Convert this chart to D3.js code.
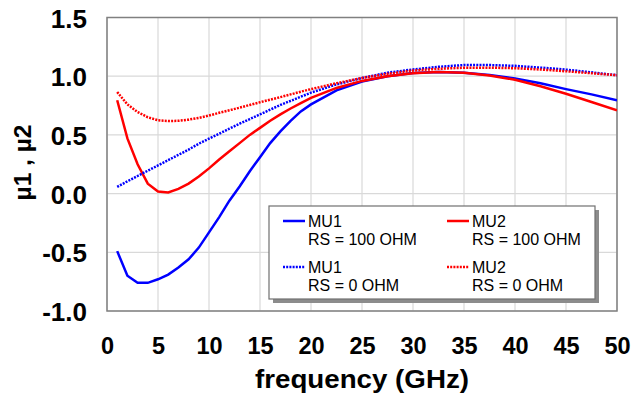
<!DOCTYPE html>
<html><head><meta charset="utf-8">
<script src="https://cdn.jsdelivr.net/npm/d3@7/dist/d3.min.js"></script>
<style>body{margin:0;background:#fff}svg{display:block}</style>
</head><body><svg id="c" width="636" height="399"></svg>
<script>
const freq = [1,2,3,4,5,6,7,8,9,10,11,12,13,14,15,16,17,18,19,20,22.5,25,27.5,30,32.5,35,37.5,40,42.5,45,47.5,50];
const mu1_rs100 = [-0.49,-0.70,-0.76,-0.76,-0.73,-0.69,-0.63,-0.56,-0.46,-0.33,-0.20,-0.06,0.06,0.19,0.31,0.43,0.53,0.62,0.70,0.76,0.88,0.955,1.00,1.027,1.036,1.03,1.01,0.98,0.94,0.89,0.845,0.795];
const mu2_rs100 = [0.795,0.47,0.25,0.085,0.017,0.01,0.04,0.085,0.145,0.215,0.29,0.36,0.43,0.50,0.56,0.62,0.675,0.725,0.77,0.815,0.90,0.96,1.00,1.025,1.035,1.03,1.005,0.97,0.915,0.85,0.78,0.71];
const mu1_rs0 = [0.057,0.105,0.15,0.195,0.24,0.285,0.33,0.375,0.425,0.468,0.51,0.553,0.595,0.635,0.675,0.715,0.755,0.79,0.825,0.86,0.93,0.985,1.03,1.057,1.08,1.095,1.095,1.088,1.073,1.056,1.033,1.008];
const mu2_rs0 = [0.865,0.76,0.695,0.65,0.625,0.618,0.62,0.63,0.645,0.665,0.688,0.71,0.732,0.755,0.778,0.80,0.822,0.845,0.868,0.89,0.94,0.985,1.02,1.048,1.063,1.072,1.073,1.068,1.057,1.042,1.025,1.008];
const xTicks = [0,5,10,15,20,25,30,35,40,45,50];
const yTicks = [-1.0,-0.5,0.0,0.5,1.0,1.5];
const seriesNames = ["MU1","MU2","MU1","MU2"];
const seriesSub = ["RS = 100 OHM","RS = 100 OHM","RS = 0 OHM","RS = 0 OHM"];

const svg = d3.select("#c");
const L=107,R=617,T=17.5,B=311;
const x = d3.scaleLinear().domain([0,50]).range([L,R]);
const y = d3.scaleLinear().domain([-1,1.5]).range([B,T]);
const font = "'Liberation Sans', Arial, sans-serif";

// grid
svg.append("g").selectAll("line").data(xTicks).join("line")
  .attr("x1",d=>x(d)).attr("x2",d=>x(d)).attr("y1",T).attr("y2",B)
  .attr("stroke","#d9d9d9").attr("stroke-width",1.2);
svg.append("g").selectAll("line").data(yTicks).join("line")
  .attr("x1",L).attr("x2",R).attr("y1",d=>y(d)).attr("y2",d=>y(d))
  .attr("stroke","#d9d9d9").attr("stroke-width",1.2);
// frame
svg.append("rect").attr("x",L).attr("y",T).attr("width",R-L).attr("height",B-T)
  .attr("fill","none").attr("stroke","#808080").attr("stroke-width",1.5);

// axes
const xAxis = d3.axisBottom(x).tickValues(xTicks).tickSize(0).tickPadding(0).tickFormat(d3.format("d"));
const gx = svg.append("g").attr("transform",`translate(0,${B})`).call(xAxis);
gx.select(".domain").remove();
gx.selectAll("text").attr("y",43).attr("dy",null).attr("font-family",font)
  .attr("font-weight","bold").attr("font-size",23.5).attr("fill","#000");
const fmtY = d => d3.format(".1f")(d).replace("\u2212","-");
const yAxis = d3.axisLeft(y).tickValues(yTicks).tickSize(0).tickPadding(0).tickFormat(fmtY);
const gy = svg.append("g").attr("transform",`translate(${L},0)`).call(yAxis);
gy.select(".domain").remove();
gy.selectAll("text").attr("x",-20).attr("dy","0.37em").attr("font-family",font)
  .attr("font-weight","bold").attr("font-size",26).attr("fill","#000");

svg.append("text").attr("x",(L+R)/2).attr("y",388).attr("text-anchor","middle")
  .attr("font-family",font).attr("font-weight","bold").attr("font-size",26.5)
  .attr("textLength",214).attr("lengthAdjust","spacingAndGlyphs").text("frequency (GHz)");
svg.append("text").attr("transform",`translate(31,162.5) rotate(-90)`).attr("text-anchor","middle")
  .attr("font-family",font).attr("font-weight","bold").attr("font-size",24.5).text("µ1 , µ2");

// lines
const line = d3.line().x((d,i)=>x(freq[i])).y(d=>y(d));
const series = [
  {v:mu1_rs100,c:"#0000ff",dash:null},
  {v:mu2_rs100,c:"#ff0000",dash:null},
  {v:mu1_rs0,c:"#0000ff",dash:"2,1.2"},
  {v:mu2_rs0,c:"#ff0000",dash:"2,1.2"}
];
svg.append("clipPath").attr("id","cp").append("rect").attr("x",L).attr("y",T).attr("width",R-L).attr("height",B-T);
series.forEach(s=>{
  svg.append("path").attr("d",line(s.v)).attr("fill","none").attr("stroke",s.c)
    .attr("stroke-width",2.5).attr("stroke-dasharray",s.dash).attr("clip-path","url(#cp)");
});

// legend
const lx=269, ly=206, lw=326, lh=93;
svg.append("rect").attr("x",lx+4).attr("y",ly+4).attr("width",lw).attr("height",lh).attr("fill","#8c8c8c");
svg.append("rect").attr("x",lx).attr("y",ly).attr("width",lw).attr("height",lh).attr("fill","#fff")
  .attr("stroke","#707070").attr("stroke-width",1.2);
const pos = [[283,221],[447,221],[283,267],[447,267]];
series.forEach((s,i)=>{
  const [px,py]=pos[i];
  svg.append("line").attr("x1",px).attr("x2",px+22).attr("y1",py).attr("y2",py)
    .attr("stroke",s.c).attr("stroke-width",2.5).attr("stroke-dasharray",s.dash);
  const t = svg.append("text").attr("font-family",font).attr("font-size",16).attr("fill","#000");
  t.append("tspan").attr("x",px+25).attr("y",py+5.5).text(seriesNames[i]);
  t.append("tspan").attr("x",px+25).attr("y",py+23.5).text(seriesSub[i]);
});
</script></body></html>
